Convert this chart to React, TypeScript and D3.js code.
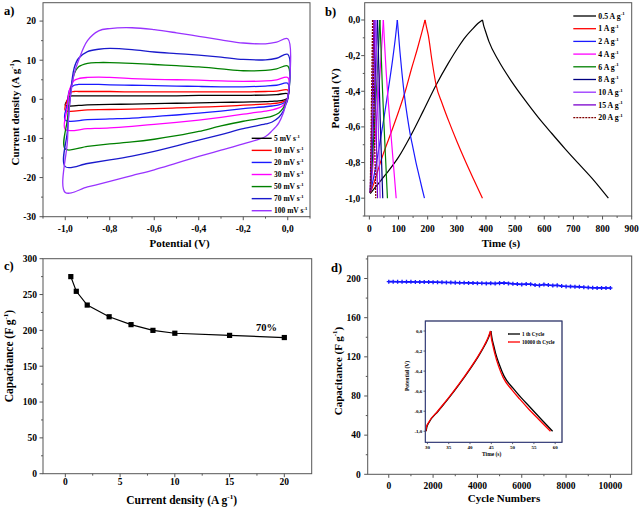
import React from 'react';
import * as d3 from 'd3';

const SERIF = '"Liberation Serif","Times New Roman",Times,serif';
const FRAME = '#555555';

// ---------------- Panel a : cyclic voltammetry ----------------
const cvLabels = ['5 mV s', '10 mV s', '20 mV s', '30 mV s', '50 mV s', '70 mV s', '100 mV s'];
const cvColors = ['#000000', '#ff0000', '#1a1aff', '#ff00ff', '#008000', '#1a1acc', '#9933ff'];
const cvAnodicPotential = [-1.0, -0.99, -0.98, -0.96, -0.94, -0.9, -0.85, -0.8, -0.7, -0.6, -0.5, -0.4, -0.3, -0.2, -0.1, -0.05, 0.0];
const cv5Anodic = [-1.5, -0.2, 0.8, 0.9, 0.9, 0.9, 0.9, 0.9, 0.9, 0.9, 0.9, 1.0, 1.0, 1.0, 1.1, 1.2, 1.4];
const cv10Anodic = [-2.8, 0.0, 1.7, 2.0, 2.0, 2.0, 2.0, 2.0, 1.9, 1.9, 1.9, 1.9, 1.9, 1.9, 2.0, 2.1, 2.4];
const cv20Anodic = [-5.3, -1.0, 2.5, 3.6, 3.8, 3.8, 3.8, 3.7, 3.6, 3.5, 3.4, 3.3, 3.2, 3.2, 3.4, 3.6, 4.1];
const cv30Anodic = [-7.7, -2.0, 2.5, 4.8, 5.3, 5.6, 5.7, 5.6, 5.3, 5.1, 5.0, 4.9, 4.7, 4.6, 4.7, 5.0, 5.6];
const cv50Anodic = [-12.7, -5.0, 0.0, 6.5, 8.3, 9.2, 9.4, 9.4, 9.2, 8.9, 8.6, 8.3, 7.8, 7.3, 7.4, 7.8, 8.5];
const cv70Anodic = [-17.2, -8.0, -1.0, 8.0, 10.5, 12.2, 12.8, 13.0, 12.7, 12.1, 11.7, 11.3, 10.8, 10.2, 10.1, 10.5, 11.5];
const cv100Anodic = [-23.8, -10.5, -1.0, 6.5, 10.0, 15.0, 17.5, 18.1, 18.3, 17.8, 17.0, 16.1, 15.2, 14.4, 14.2, 14.6, 15.5];
const cvCathodicPotential = [0.0, -0.01, -0.02, -0.04, -0.07, -0.1, -0.2, -0.3, -0.4, -0.5, -0.6, -0.7, -0.8, -0.9, -1.0];
const cv5Cathodic = [0.3, 0.0, -0.2, -0.4, -0.5, -0.6, -0.7, -0.8, -0.9, -1.0, -1.1, -1.2, -1.3, -1.4, -1.5];
const cv10Cathodic = [0.5, -0.3, -0.6, -0.9, -1.1, -1.2, -1.5, -1.8, -2.0, -2.2, -2.4, -2.5, -2.6, -2.7, -2.8];
const cv20Cathodic = [0.5, -0.5, -1.0, -1.4, -1.7, -1.9, -2.4, -3.0, -3.5, -4.0, -4.4, -4.8, -5.0, -5.2, -5.3];
const cv30Cathodic = [0.3, -0.8, -1.5, -2.2, -2.7, -3.0, -3.8, -4.6, -5.3, -5.9, -6.4, -6.9, -7.3, -7.5, -7.7];
const cv50Cathodic = [0.3, -1.0, -2.2, -3.5, -4.3, -4.7, -5.6, -6.8, -8.2, -9.3, -10.2, -10.9, -11.4, -12.0, -12.7];
const cv70Cathodic = [0.0, -1.5, -3.0, -4.6, -5.8, -6.3, -7.5, -9.0, -10.4, -11.9, -13.3, -14.5, -15.5, -16.4, -17.2];
const cv100Cathodic = [0.5, -1.5, -3.5, -6.0, -8.0, -9.5, -11.4, -13.0, -14.6, -16.3, -18.0, -19.5, -21.0, -22.4, -23.8];
const cvAnodicAll = [cv5Anodic, cv10Anodic, cv20Anodic, cv30Anodic, cv50Anodic, cv70Anodic, cv100Anodic];
const cvCathodicAll = [cv5Cathodic, cv10Cathodic, cv20Cathodic, cv30Cathodic, cv50Cathodic, cv70Cathodic, cv100Cathodic];
const aXTicks = [-1.0, -0.8, -0.6, -0.4, -0.2, 0.0];
const aXMinor = [-1.1, -0.9, -0.7, -0.5, -0.3, -0.1, 0.1];
const aYTicks = [20, 10, 0, -10, -20, -30];
const aYMinor = [15, 5, -5, -15, -25];

// ---------------- Panel b : GCD ----------------
const gcdLabels = ['0.5 A g', '1 A g', '2 A g', '4 A g', '6 A g', '8 A g', '10 A g', '15 A g', '20 A g'];
const gcdColors = ['#000000', '#ff0000', '#1a1aff', '#ff00ff', '#008000', '#000080', '#9933ff', '#7a00cc', '#800000'];
const gcd05Time = [3, 20, 54, 100, 140, 185, 229, 270, 306, 330, 351, 372, 388, 392, 397, 410, 442, 490, 534, 580, 626, 670, 717, 770, 820];
const gcd05V = [-0.975, -0.94, -0.871, -0.77, -0.655, -0.51, -0.365, -0.245, -0.15, -0.095, -0.056, -0.02, 0.0, -0.03, -0.056, -0.12, -0.225, -0.35, -0.45, -0.548, -0.637, -0.72, -0.805, -0.9, -1.0];
const gcd1Time = [3, 15, 30, 48, 75, 100, 125, 145, 165, 180, 191, 196, 202, 215, 229, 250, 271, 300, 328, 358, 388];
const gcd1V = [-0.97, -0.92, -0.84, -0.75, -0.63, -0.515, -0.39, -0.271, -0.16, -0.07, 0.0, -0.04, -0.084, -0.23, -0.365, -0.47, -0.562, -0.68, -0.787, -0.895, -1.0];
const gcd2Time = [3, 10, 20, 35, 50, 65, 80, 90, 96, 100, 105, 112, 120, 130, 140, 150, 160, 170, 180, 189];
const gcd2V = [-0.97, -0.92, -0.84, -0.7, -0.55, -0.39, -0.22, -0.09, 0.0, -0.08, -0.18, -0.3, -0.42, -0.54, -0.64, -0.72, -0.8, -0.87, -0.94, -1.0];
const gcd4Time = [3, 10, 20, 30, 40, 48, 52, 58, 65, 72, 80, 86, 92];
const gcd4V = [-0.97, -0.86, -0.66, -0.45, -0.21, 0.0, -0.13, -0.3, -0.46, -0.6, -0.76, -0.88, -1.0];
const gcd6Time = [3, 10, 18, 26, 32, 36, 39, 44, 50, 56, 62];
const gcd6V = [-0.97, -0.8, -0.58, -0.34, -0.14, 0.0, -0.12, -0.35, -0.58, -0.79, -1.0];
const gcd8Time = [3, 9, 15, 21, 25, 28, 30, 34, 38, 42, 46];
const gcd8V = [-0.97, -0.76, -0.53, -0.28, -0.12, 0.0, -0.12, -0.37, -0.6, -0.8, -1.0];
const gcd10Time = [3, 8, 13, 18, 22, 24, 28, 33, 37];
const gcd10V = [-0.97, -0.72, -0.47, -0.21, 0.0, -0.15, -0.43, -0.74, -1.0];
const gcd15Time = [3, 7, 11, 16, 18, 22, 25, 28];
const gcd15V = [-0.97, -0.66, -0.37, 0.0, -0.17, -0.5, -0.74, -1.0];
const gcd20Time = [3, 6, 9, 11, 13, 16, 19, 22];
const gcd20V = [-0.97, -0.6, -0.25, 0.0, -0.23, -0.5, -0.76, -1.0];
const gcdTimes = [gcd05Time, gcd1Time, gcd2Time, gcd4Time, gcd6Time, gcd8Time, gcd10Time, gcd15Time, gcd20Time];
const gcdVs = [gcd05V, gcd1V, gcd2V, gcd4V, gcd6V, gcd8V, gcd10V, gcd15V, gcd20V];
const bXTicks = [0, 100, 200, 300, 400, 500, 600, 700, 800, 900];
const bXMinor = [50, 150, 250, 350, 450, 550, 650, 750, 850];
const bYTicks = [0.0, -0.2, -0.4, -0.6, -0.8, -1.0];
const bYMinor = [-0.1, -0.3, -0.5, -0.7, -0.9, -1.1];

// ---------------- Panel c : rate capability ----------------
const rateCurrent = [0.5, 1, 2, 4, 6, 8, 10, 15, 20];
const rateCapacitance = [275, 254.5, 235.3, 219, 208, 200, 196, 193, 190];
const cXTicks = [0, 5, 10, 15, 20];
const cXMinor = [2.5, 7.5, 12.5, 17.5];
const cYTicks = [0, 50, 100, 150, 200, 250, 300];
const cYMinor = [25, 75, 125, 175, 225, 275];

// ---------------- Panel d : cycling ----------------
const cycleNumber = [0, 200, 400, 600, 800, 1000, 1200, 1400, 1600, 1800, 2000, 2200, 2400, 2600, 2800, 3000, 3200, 3400, 3600, 3800, 4000, 4200, 4400, 4600, 4800, 5000, 5200, 5400, 5600, 5800, 6000, 6200, 6400, 6600, 6800, 7000, 7200, 7400, 7600, 7800, 8000, 8200, 8400, 8600, 8800, 9000, 9200, 9400, 9600, 9800, 10000];
const cycleCapacitance = [196.8, 196.8, 196.7, 196.7, 196.6, 196.6, 196.5, 196.5, 196.5, 196.4, 196.3, 196.2, 196.1, 196.0, 195.9, 195.8, 195.7, 195.6, 195.5, 195.4, 195.2, 195.1, 195.0, 195.2, 194.9, 195.3, 195.5, 195.0, 194.6, 194.3, 194.0, 194.3, 194.2, 193.4, 193.0, 193.9, 193.3, 192.9, 193.0, 192.3, 191.9, 191.8, 191.7, 191.5, 191.1, 190.8, 190.5, 190.4, 190.4, 190.3, 190.3];
const dXTicks = [0, 2000, 4000, 6000, 8000, 10000];
const dXMinor = [1000, 3000, 5000, 7000, 9000];
const dYTicks = [0, 40, 80, 120, 160, 200];
const dYMinor = [20, 60, 100, 140, 180, 220];

// inset
const insetLabels = ['1 th Cycle', '10000 th Cycle'];
const insetColors = ['#000000', '#ff0000'];
const inset1Time = [29.7, 29.85, 30.4, 32.5, 35, 37.5, 40, 42, 43.5, 44.4, 44.9, 45.2, 45.5, 46, 46.9, 48, 50.1, 52, 54, 56.5, 59.4];
const inset1V = [-1.0, -0.96, -0.91, -0.8, -0.67, -0.53, -0.38, -0.25, -0.14, -0.06, 0.0, -0.08, -0.134, -0.22, -0.336, -0.45, -0.57, -0.665, -0.755, -0.87, -1.0];
const inset10000Time = [29.6, 29.75, 30.3, 32.4, 34.9, 37.4, 39.9, 41.9, 43.4, 44.3, 44.8, 45.05, 45.35, 45.85, 46.7, 47.8, 49.8, 51.7, 53.6, 56.1, 58.9];
const inset10000V = [-1.0, -0.96, -0.91, -0.8, -0.67, -0.53, -0.38, -0.25, -0.14, -0.06, 0.0, -0.08, -0.14, -0.23, -0.35, -0.465, -0.585, -0.68, -0.77, -0.88, -1.0];
const insetTimes = [inset1Time, inset10000Time];
const insetVs = [inset1V, inset10000V];
const iXTicks = [30, 35, 40, 45, 50, 55, 60];
const iYTicks = [0.0, -0.2, -0.4, -0.6, -0.8, -1.0];

const comma = (v: number) => (Math.abs(v) < 1e-9 ? 0 : v).toFixed(1).replace('.', ',');
const plain = (v: number) => String(v);

type AxesProps = {
  x: d3.ScaleLinear<number, number>;
  y: d3.ScaleLinear<number, number>;
  xTicks: number[]; yTicks: number[];
  xMinor?: number[]; yMinor?: number[];
  fx: (v: number) => string; fy: (v: number) => string;
  fs: number; xBase: number; yGap: number; tl: number; sw?: number;
};

function Axes(p: AxesProps) {
  const [xa, xb] = p.x.range();
  const [yb, ya] = p.y.range();
  const sw = p.sw ?? 1;
  return (
    <g>
      <rect x={xa} y={ya} width={xb - xa} height={yb - ya} fill="none" stroke={FRAME} strokeWidth={sw} />
      {p.xTicks.map((v) => (
        <line key={'xt' + v} x1={p.x(v)} x2={p.x(v)} y1={yb} y2={yb + p.tl} stroke={FRAME} strokeWidth={sw} />
      ))}
      {(p.xMinor || []).map((v) => (
        <line key={'xm' + v} x1={p.x(v)} x2={p.x(v)} y1={yb} y2={yb + p.tl * 0.55} stroke={FRAME} strokeWidth={sw} />
      ))}
      {p.yTicks.map((v) => (
        <line key={'yt' + v} x1={xa - p.tl} x2={xa} y1={p.y(v)} y2={p.y(v)} stroke={FRAME} strokeWidth={sw} />
      ))}
      {(p.yMinor || []).map((v) => (
        <line key={'ym' + v} x1={xa - p.tl * 0.55} x2={xa} y1={p.y(v)} y2={p.y(v)} stroke={FRAME} strokeWidth={sw} />
      ))}
      {p.xTicks.map((v) => (
        <text key={'xl' + v} x={p.x(v)} y={yb + p.xBase} textAnchor="middle" fontSize={p.fs} fontWeight="bold" fontFamily={SERIF}>
          {p.fx(v)}
        </text>
      ))}
      {p.yTicks.map((v) => (
        <text key={'yl' + v} x={xa - p.yGap} y={p.y(v) + p.fs * 0.35} textAnchor="end" fontSize={p.fs} fontWeight="bold" fontFamily={SERIF}>
          {p.fy(v)}
        </text>
      ))}
    </g>
  );
}

function SupText({ x, y, main, sup, tail, fs, rotate, anchor }: { x: number; y: number; main: string; sup: string; tail?: string; fs: number; rotate?: boolean; anchor?: string }) {
  const ss = fs * 0.62;
  const sh = fs * 0.42;
  return (
    <text
      x={rotate ? 0 : x}
      y={rotate ? 0 : y}
      transform={rotate ? `translate(${x},${y}) rotate(-90)` : undefined}
      textAnchor={anchor || 'start'}
      fontSize={fs}
      fontWeight="bold"
      fontFamily={SERIF}
    >
      {main}
      <tspan fontSize={ss} dy={-sh}>{sup}</tspan>
      {tail ? <tspan dy={sh}>{tail}</tspan> : null}
    </text>
  );
}

export default function App() {
  // scales
  const xA = d3.scaleLinear().domain([-1.1, 0.1]).range([43, 310]);
  const yA = d3.scaleLinear().domain([-30, 24.7]).range([216.7, 2.7]);
  const xB = d3.scaleLinear().domain([-16, 900]).range([364.7, 631.7]);
  const yB = d3.scaleLinear().domain([-1.1, 0.097]).range([216, 2.7]);
  const xC = d3.scaleLinear().domain([-2.04, 22.5]).range([43, 311.7]);
  const yC = d3.scaleLinear().domain([0, 300]).range([473.7, 258.7]);
  const xD = d3.scaleLinear().domain([-950, 10960]).range([367.7, 631.7]);
  const yD = d3.scaleLinear().domain([0, 223]).range([474.3, 256]);
  const xI = d3.scaleLinear().domain([29.5, 61.6]).range([425.3, 562]);
  const yI = d3.scaleLinear().domain([-1.11, 0.1]).range([442.3, 321]);

  const cvLine = d3
    .line<[number, number]>()
    .x((d) => xA(d[0]))
    .y((d) => yA(d[1]))
    .curve(d3.curveCatmullRomClosed.alpha(0.5));

  const cvPaths = cvLabels.map((_, i) => {
    const pts: [number, number][] = [];
    cvAnodicPotential.forEach((v, k) => pts.push([v, cvAnodicAll[i][k]]));
    cvCathodicPotential.slice(0, -1).forEach((v, k) => pts.push([v, cvCathodicAll[i][k]]));
    return cvLine(pts) || '';
  });

  const splitPaths = (
    ts: number[],
    vs: number[],
    sx: d3.ScaleLinear<number, number>,
    sy: d3.ScaleLinear<number, number>
  ) => {
    const peak = vs.indexOf(d3.max(vs) as number);
    const ln = d3
      .line<number>()
      .x((k) => sx(ts[k]))
      .y((k) => sy(vs[k]))
      .curve(d3.curveMonotoneX);
    const idx = ts.map((_, k) => k);
    return [ln(idx.slice(0, peak + 1)) || '', ln(idx.slice(peak)) || ''];
  };

  const rateLine = d3
    .line<number>()
    .x((_, k) => xC(rateCurrent[k]))
    .y((d) => yC(d));
  const cycleLine = d3
    .line<number>()
    .x((_, k) => xD(cycleNumber[k]))
    .y((d) => yD(d));
  const crossPath = d3.symbol(d3.symbolCross, 9)() || '';

  return (
    <svg width={640} height={508} style={{ position: 'absolute', left: 0, top: 0, background: '#fff' }} fontFamily={SERIF}>
      <rect x={0} y={0} width={640} height={508} fill="#fff" />

      {/* ---------- a ---------- */}
      <text x={4} y={15} fontSize={12.5} fontWeight="bold">a)</text>
      <g>
        {cvPaths.map((d, i) => (
          <path key={'cv' + i} d={d} fill="none" stroke={cvColors[i]} strokeWidth={1.3} />
        ))}
      </g>
      <Axes x={xA} y={yA} xTicks={aXTicks} yTicks={aYTicks} xMinor={aXMinor} yMinor={aYMinor} fx={comma} fy={plain} fs={9.5} xBase={15.5} yGap={7} tl={3.5} />
      {cvLabels.map((l, i) => {
        const yy = 138.3 + i * 12.07;
        return (
          <g key={'cvl' + i}>
            <line x1={251.7} x2={271.7} y1={yy} y2={yy} stroke={cvColors[i]} strokeWidth={1.4} />
            <SupText x={274} y={yy + 2.7} main={l} sup="-1" fs={7.5} />
          </g>
        );
      })}
      <text x={179.5} y={247} textAnchor="middle" fontSize={11} fontWeight="bold">Potential (V)</text>
      <SupText x={19} y={112.5} main="Current density (A g" sup="-1" tail=")" fs={11} rotate anchor="middle" />

      {/* ---------- b ---------- */}
      <text x={325} y={16} fontSize={12.5} fontWeight="bold">b)</text>
      <g>
        {gcdLabels.map((_, i) => {
          const [p1, p2] = splitPaths(gcdTimes[i], gcdVs[i], xB, yB);
          const dash = i === 8 ? '2,1' : undefined;
          return (
            <g key={'gcd' + i}>
              <path d={p1} fill="none" stroke={gcdColors[i]} strokeWidth={1.2} strokeDasharray={dash} />
              <path d={p2} fill="none" stroke={gcdColors[i]} strokeWidth={1.2} strokeDasharray={dash} />
            </g>
          );
        })}
      </g>
      <Axes x={xB} y={yB} xTicks={bXTicks} yTicks={bYTicks} xMinor={bXMinor} yMinor={bYMinor} fx={plain} fy={comma} fs={9.5} xBase={15.5} yGap={4.5} tl={3.5} />
      {gcdLabels.map((l, i) => {
        const yy = 16 + i * 12.7;
        return (
          <g key={'gl' + i}>
            <line x1={573.3} x2={596} y1={yy} y2={yy} stroke={gcdColors[i]} strokeWidth={1.3} strokeDasharray={i === 8 ? '2,1' : undefined} />
            <SupText x={598.3} y={yy + 2.7} main={l} sup="-1" fs={7.8} />
          </g>
        );
      })}
      <text x={501} y={247} textAnchor="middle" fontSize={11} fontWeight="bold">Time (s)</text>
      <text transform="translate(339,98.5) rotate(-90)" textAnchor="middle" fontSize={11} fontWeight="bold">Potential (V)</text>

      {/* ---------- c ---------- */}
      <text x={4} y={270} fontSize={12.5} fontWeight="bold">c)</text>
      <Axes x={xC} y={yC} xTicks={cXTicks} yTicks={cYTicks} xMinor={cXMinor} yMinor={cYMinor} fx={plain} fy={plain} fs={9.5} xBase={11} yGap={6} tl={3.5} />
      <path d={rateLine(rateCapacitance) || ''} fill="none" stroke="#000" strokeWidth={1.2} />
      {rateCapacitance.map((v, k) => (
        <rect key={'rc' + k} x={xC(rateCurrent[k]) - 2.6} y={yC(v) - 2.6} width={5.2} height={5.2} fill="#000" />
      ))}
      <text x={256} y={331} fontSize={10.5} fontWeight="bold">70%</text>
      <SupText x={181.7} y={504} main="Current density (A g" sup="-1" tail=")" fs={11.5} anchor="middle" />
      <SupText x={13} y={356} main="Capacitance (F g" sup="-1" tail=")" fs={11.5} rotate anchor="middle" />

      {/* ---------- d ---------- */}
      <text x={331} y={272} fontSize={12.5} fontWeight="bold">d)</text>
      <Axes x={xD} y={yD} xTicks={dXTicks} yTicks={dYTicks} xMinor={dXMinor} yMinor={dYMinor} fx={plain} fy={plain} fs={9.5} xBase={14.5} yGap={7} tl={3.5} />
      <path d={cycleLine(cycleCapacitance) || ''} fill="none" stroke="#0000ff" strokeWidth={1.6} />
      {cycleCapacitance.map((v, k) => (
        <path key={'cy' + k} d={crossPath} transform={`translate(${xD(cycleNumber[k])},${yD(v)})`} fill="#1a1aff" />
      ))}
      <text x={504} y={502} textAnchor="middle" fontSize={11} fontWeight="bold">Cycle Numbers</text>
      <SupText x={342} y={371} main="Capacitance (F g" sup="-1" tail=")" fs={11} rotate anchor="middle" />

      {/* inset */}
      <rect x={425.3} y={321} width={562 - 425.3} height={442.3 - 321} fill="#fff" />
      {insetLabels.map((_, i) => {
        const [p1, p2] = splitPaths(insetTimes[i], insetVs[i], xI, yI);
        return (
          <g key={'in' + i}>
            <path d={p1} fill="none" stroke={insetColors[i]} strokeWidth={1.3} />
            <path d={p2} fill="none" stroke={insetColors[i]} strokeWidth={1.3} />
          </g>
        );
      })}
      <Axes x={xI} y={yI} xTicks={iXTicks} yTicks={iYTicks} fx={plain} fy={comma} fs={5} xBase={6.5} yGap={3} tl={1.8} sw={0.9} />
      <rect x={425.3} y={321} width={562 - 425.3} height={442.3 - 321} fill="none" stroke="#2a3580" strokeWidth={0.9} />
      {insetLabels.map((l, i) => {
        const yy = 334 + i * 8;
        return (
          <g key={'il' + i}>
            <line x1={508} x2={520} y1={yy} y2={yy} stroke={insetColors[i]} strokeWidth={1.3} />
            <text x={522} y={yy + 1.8} fontSize={5.2} fontWeight="bold">{l}</text>
          </g>
        );
      })}
      <text x={491.7} y={456} textAnchor="middle" fontSize={5.5} fontWeight="bold">Time (s)</text>
      <text transform="translate(409,376) rotate(-90)" textAnchor="middle" fontSize={5.5} fontWeight="bold">Potential (V)</text>
    </svg>
  );
}
